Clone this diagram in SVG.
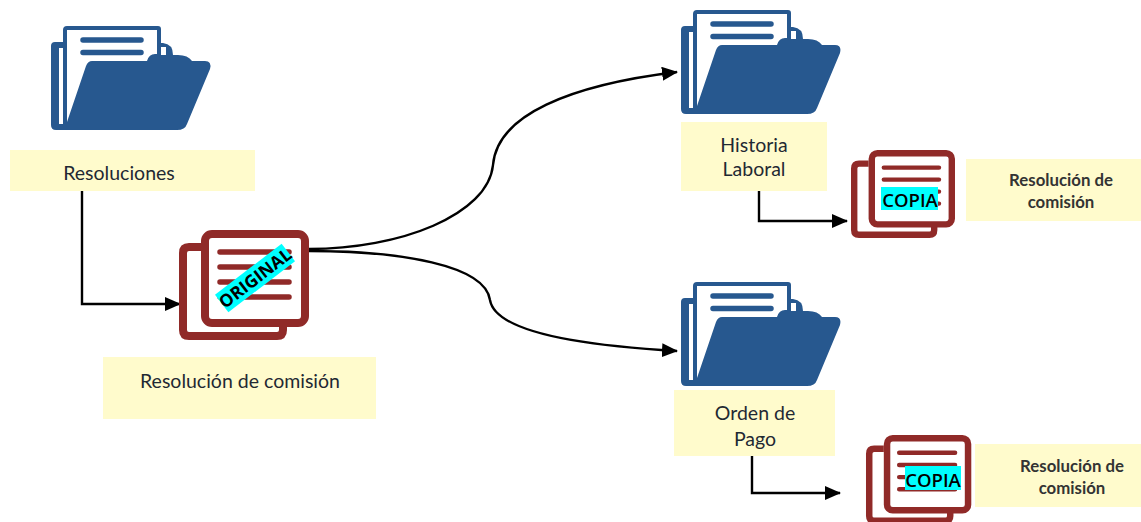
<svg xmlns="http://www.w3.org/2000/svg" width="1141" height="522" viewBox="0 0 1141 522">
<style>
.lbl{fill:#FFFBCC}
.t{font-family:Lato,"Liberation Sans",sans-serif;font-size:19.500px;fill:#1f2933;text-anchor:middle}
.b{font-family:Lato,"Liberation Sans",sans-serif;font-size:16.800px;font-weight:700;fill:#333;text-anchor:middle}
.s{font-family:"Open Sans","Liberation Sans",sans-serif;font-weight:600;fill:#000;text-anchor:middle}
.c{fill:none;stroke:#000;stroke-width:2.400}
.d{fill:none;stroke:#902A28;stroke-linejoin:round}
</style>
<defs>
<marker id="a" markerUnits="userSpaceOnUse" markerWidth="16" markerHeight="14" refX="15" refY="7" orient="auto"><path d="M0 0L16 7L0 14Z" fill="#000"/></marker>
<g id="folder">
<path d="M63 42H55Q51 42 51 46V125Q51 130 56 130H177Q185 130 187 124L210 69Q212 61 205 61H192Q188 55 178 55H173Q173 44 163 43H161V29Q161 26 158 26H67Q63 26 63 30Z" fill="#27588F"/>
<path d="M59 48H63V124H59ZM67 30H157V54H155Q149 54 147 61H92Q88 61 86 66L67 122Z" fill="#fff"/>
<path d="M161 47H166V55H161Z" fill="#fff"/>
<path d="M83 40H141M83 52.500H141" stroke="#27588F" stroke-width="5.500" stroke-linecap="round" fill="none"/>
</g>
<g id="doc">
<path class="d" stroke-width="8" d="M201 247H189Q183 247 183 253V330Q183 336 189 336H277Q283 336 283 330V323" />
<rect class="d" stroke-width="8" x="205" y="234" width="100" height="89" rx="7"/>
<path d="M220 252H289M220 267H289M220 282H289M220 297H289" stroke="#902A28" stroke-width="5.500" stroke-linecap="round" fill="none"/>
</g>
</defs>
<g id="connectors">
<path class="c" d="M82 186V304H180" marker-end="url(#a)"/>
<path class="c" d="M309 249C400 249 488 215 493 165C497 115 570 85 677 72" marker-end="url(#a)"/>
<path class="c" d="M309 251C400 251 485 265 490 300C495 330 570 345 677 351" marker-end="url(#a)"/>
<path class="c" d="M759 180V221H847" marker-end="url(#a)"/>
<path class="c" d="M752 451V493H840" marker-end="url(#a)"/>
</g>
<g id="resoluciones">
<use href="#folder"/>
<rect class="lbl" x="10" y="150" width="245" height="41"/>
<text class="t" x="119" y="180">Resoluciones</text>
</g>
<g id="original">
<use href="#doc"/>
<g transform="translate(255 278) rotate(-37.500)">
<rect x="-42" y="-11" width="84" height="22" fill="#00FFFF" />
<text class="s" x="0" y="6.500" font-size="17.500" style="font-weight:700">ORIGINAL</text>
</g>
<rect class="lbl" x="103" y="357" width="273" height="62"/>
<text class="t" x="240" y="388">Resolución de comisión</text>
</g>
<g id="historia-laboral">
<use href="#folder" x="630" y="-16"/>
<rect class="lbl" x="681" y="122" width="146" height="69"/>
<text class="t" x="754" y="152">Historia</text>
<text class="t" x="754" y="176">Laboral</text>
</g>
<g id="copia-historia">
<use href="#doc" transform="translate(707.800 -34) scale(.8)"/>
<rect x="881" y="187" width="57" height="23" fill="#00FFFF"/>
<text class="s" x="910" y="207" font-size="18.500">COPIA</text>
<rect class="lbl" x="966" y="159" width="175" height="62"/>
<text class="b" x="1061" y="186">Resolución de</text>
<text class="b" x="1061" y="208">comisión</text>
</g>
<g id="orden-de-pago">
<use href="#folder" x="630" y="256"/>
<rect class="lbl" x="674" y="390" width="161" height="66"/>
<text class="t" x="755" y="420">Orden de</text>
<text class="t" x="755" y="446">Pago</text>
</g>
<g id="copia-pago">
<use href="#doc" transform="translate(721 248.700) scale(.81)"/>
<rect x="905" y="466" width="56" height="24" fill="#00FFFF"/>
<text class="s" x="933" y="487" font-size="18.500">COPIA</text>
<rect class="lbl" x="975" y="444" width="166" height="63"/>
<text class="b" x="1072" y="472">Resolución de</text>
<text class="b" x="1072" y="494">comisión</text>
</g>
</svg>
